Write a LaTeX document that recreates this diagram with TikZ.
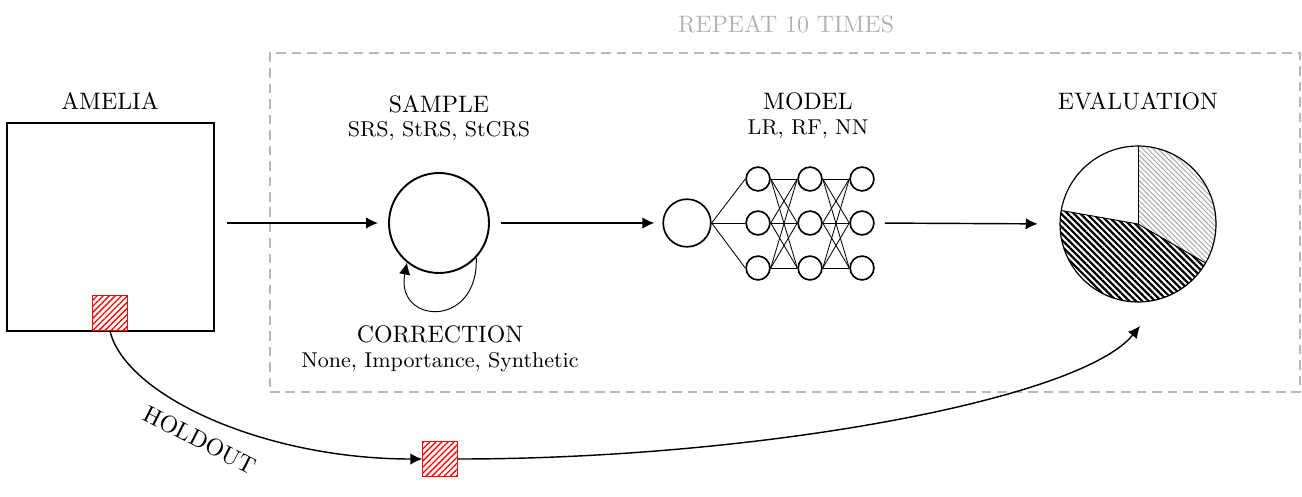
\documentclass[tikz,border=0pt]{standalone}
\usetikzlibrary{arrows.meta,patterns.meta}
\begin{document}
\begin{tikzpicture}[x=0.42pt,y=-0.42pt,
  lbl/.style={inner sep=0pt,font=\normalsize},
  sub/.style={inner sep=0pt,font=\small},
  arr/.style={line width=0.6pt,-{Latex[length=5pt,width=4.8pt]}},
  redsq/.style={draw=red,line width=0.4pt,minimum size=14.5pt,inner sep=0pt,
    pattern={Lines[angle=45,distance=1.8pt,line width=0.55pt]},pattern color=red},
  neuron/.style={circle,draw,line width=0.7pt,inner sep=0pt,minimum size=10pt},
  syn/.style={line width=0.35pt}]
\useasboundingbox (0,0) rectangle (1302,496);
% repeat box
\node[draw=black!28,dash pattern=on 4pt off 2.5pt,line width=0.6pt,minimum width=432.6pt,minimum height=142.4pt,inner sep=0pt] (repbox) at (785,222.5) {};
\node[lbl,text=black!30] (rep) at (786,24) {REPEAT 10 TIMES};
% amelia
\node[draw,line width=0.7pt,minimum width=87pt,minimum height=87.4pt,inner sep=0pt] (amelia) at (110.5,227) {};
\node[lbl] (amelialbl) at (110,101) {AMELIA};
\node[redsq] (red1) at (110,313) {};
% sample
\node[circle,draw,line width=0.8pt,minimum size=42pt,inner sep=0pt] (sample) at (439,223) {};
\node[lbl] (samplelbl) at (439,104) {SAMPLE};
\node[sub] (samplesub) at (439,131) {SRS, StRS, StCRS};
\node[lbl] (corrlbl) at (440,334) {CORRECTION};
\node[sub] (corrsub) at (440,362) {None, Importance, Synthetic};
\draw[line width=0.4pt,-{Latex[length=5pt,width=4.8pt]}] (sample.-43) .. controls +(1pt,-30pt) and +(-5pt,-26pt) .. (sample.-129);
% model
\node[lbl] (modellbl) at (808,101) {MODEL};
\node[sub] (modelsub) at (808,129) {LR, RF, NN};
\node[neuron,minimum size=20pt] (in) at (687,223) {};
\foreach \c/\x in {1/758,2/810,3/862}{
  \foreach \r/\y in {1/179,2/223,3/268}{
    \node[neuron] (h\c\r) at (\x,\y) {};
  }
}
\foreach \r in {1,2,3}{\draw[syn] (in.east) -- (h1\r.west);}
\foreach \a in {1,2,3}{\foreach \b in {1,2,3}{
  \draw[syn] (h1\a.east) -- (h2\b.west);
  \draw[syn] (h2\a.east) -- (h3\b.west);
}}
% evaluation
\node[lbl] (evallbl) at (1138,101) {EVALUATION};
\node[circle,minimum size=65.5pt,inner sep=0pt] (pie) at (1138,224) {};
\fill[pattern={Lines[angle=-45,distance=1.5pt,line width=0.4pt]},pattern color=black!35]
  (pie.center) -- ++(90:32.75pt) arc[start angle=90,end angle=-30,radius=32.75pt] -- cycle;
\fill[pattern={Lines[angle=-45,distance=1.9pt,line width=0.95pt]},pattern color=black]
  (pie.center) -- ++(-30:32.75pt) arc[start angle=-30,end angle=-190,radius=32.75pt] -- cycle;
\draw[line width=0.4pt] (pie.center) -- ++(90:32.75pt);
\draw[line width=0.4pt] (pie.center) -- ++(170:32.75pt);
\draw[line width=0.4pt] (pie.center) -- ++(-30:32.75pt);
\draw[line width=0.5pt] (pie.center) circle[radius=32.75pt];
\coordinate (evalin) at (1140,326);
% flow arrows
\draw[arr,shorten <=5pt,shorten >=4.2pt] (amelia.east|-sample.center) -- (sample.west);
\draw[arr,shorten <=4.6pt,shorten >=3.4pt] (sample.east) -- (in.west);
\draw[arr,shorten <=4.2pt,shorten >=9.2pt] (h32.east) -- (pie.west);
% holdout
\node[redsq] (red2) at (440,459) {};
\draw[arr] (red1.south) .. controls +(6.3pt,-26.9pt) and +(-67pt,0) .. (red2.west);
\draw[arr] (red2.east) .. controls +(126pt,0) and +(-25.2pt,-31.1pt) .. (evalin);
\node[lbl,rotate=-27] (holdlbl) at (200,440) {HOLDOUT};
\end{tikzpicture}
\end{document}
